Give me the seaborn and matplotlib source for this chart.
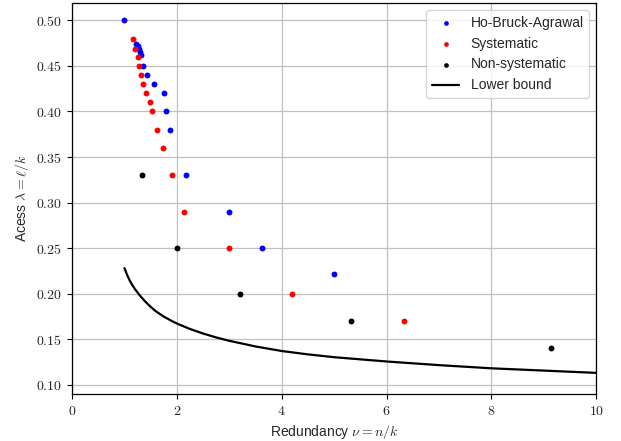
import numpy as np
import pandas as pd
import matplotlib
matplotlib.use('Agg')
import matplotlib.pyplot as plt
from matplotlib.ticker import FuncFormatter, MultipleLocator
import seaborn as sns

# values
hba_nu = [1.0, 1.215, 1.25, 1.27, 1.30, 1.32, 1.35, 1.43, 1.57, 1.76, 1.79, 1.87,
          2.18, 3.0, 3.63, 5.0]
hba_lam = [0.50, 0.474, 0.472, 0.469, 0.465, 0.462, 0.45, 0.44, 0.43, 0.42, 0.40, 0.38,
           0.33, 0.29, 0.25, 0.222]

sys_nu = [1.17, 1.20, 1.25, 1.27, 1.31, 1.35, 1.41, 1.48, 1.53, 1.62, 1.74, 1.90,
          2.14, 3.0, 4.2, 6.33]
sys_lam = [0.48, 0.469, 0.46, 0.45, 0.44, 0.43, 0.42, 0.41, 0.40, 0.38, 0.36, 0.33,
           0.29, 0.25, 0.20, 0.17]

nonsys_nu = [1.33, 2.0, 3.21, 5.33, 9.14]
nonsys_lam = [0.33, 0.25, 0.20, 0.17, 0.14]

bound_nu = [1.0, 1.05, 1.1, 1.15, 1.2, 1.3, 1.4, 1.5, 1.6, 1.75, 1.9, 2.0, 2.25,
            2.5, 2.75, 3.0, 3.5, 4.0, 4.5, 5.0, 6.0, 7.0, 8.0, 9.0, 10.0]
bound_lam = [0.228, 0.2206, 0.2145, 0.2094, 0.2050, 0.1975, 0.1911, 0.1855, 0.1806,
             0.1748, 0.1700, 0.1672, 0.1612, 0.1562, 0.1519, 0.1482, 0.1420,
             0.1370, 0.1333, 0.1302, 0.1255, 0.1215, 0.1180, 0.1155, 0.1130]

sns.set_theme(style='ticks', rc={
    'axes.grid': True,
    'grid.color': '#c0c0c0',
    'grid.linewidth': 0.9,
    'axes.edgecolor': 'black',
    'axes.linewidth': 0.9,
    'font.size': 10,
    'axes.labelsize': 10,
    'xtick.labelsize': 10,
    'ytick.labelsize': 10,
    'legend.fontsize': 10,
    'mathtext.fontset': 'cm',
})
plt.rcParams['font.family'] = ['Liberation Sans', 'DejaVu Sans']

fig = plt.figure(figsize=(6.21, 4.41), dpi=100)
ax = fig.add_axes([0.116, 0.107, 0.844, 0.886])

series = [
    ('Ho-Bruck-Agrawal', hba_nu, hba_lam, 'blue'),
    ('Systematic', sys_nu, sys_lam, 'red'),
    ('Non-systematic', nonsys_nu, nonsys_lam, 'black'),
]
for name, xs, ys, col in series:
    df = pd.DataFrame({'nu': xs, 'lam': ys})
    sns.scatterplot(data=df, x='nu', y='lam', color=col, s=18, linewidth=0,
                    label=name, ax=ax, zorder=3)

bound = pd.DataFrame({'nu': bound_nu, 'lam': bound_lam})
sns.lineplot(data=bound, x='nu', y='lam', color='black', linewidth=1.6,
             estimator=None, sort=False, label='Lower bound', ax=ax)

ax.set_xlim(0, 10)
ax.set_ylim(0.09, 0.519)
ax.xaxis.set_major_locator(MultipleLocator(2))
ax.yaxis.set_major_locator(MultipleLocator(0.05))
ax.xaxis.set_major_formatter(FuncFormatter(lambda v, p: f'${v:g}$'))
ax.yaxis.set_major_formatter(FuncFormatter(lambda v, p: f'${v:.2f}$'))
ax.tick_params(direction='out', length=3.5, width=0.8, color='black')

ax.set_xlabel(r'Redundancy $\nu = n/k$')
ax.set_ylabel(r'Acess $\lambda = \ell/k$')

ax.legend(loc='upper right', frameon=True, fancybox=True, framealpha=0.8,
          edgecolor='#cccccc', markerscale=0.8)

fig.savefig('out.png', dpi=100)
